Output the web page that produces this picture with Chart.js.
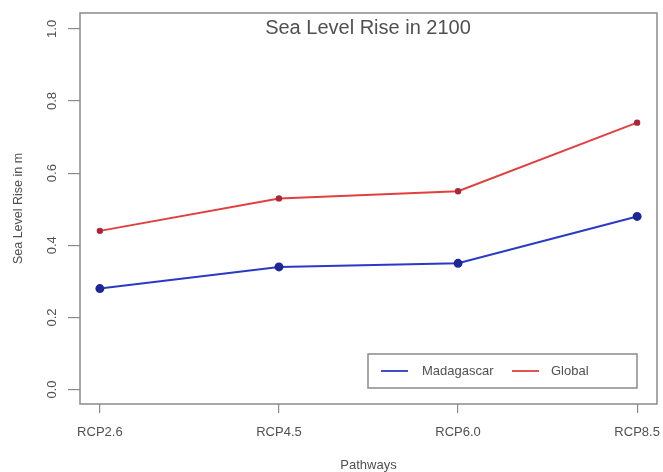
<!DOCTYPE html>
<html>
<head>
<meta charset="utf-8">
<script src="https://cdn.jsdelivr.net/npm/chart.js@4.4.1/dist/chart.umd.min.js"></script>
<style>
  html, body { margin: 0; padding: 0; background: #fff; }
  #wrap { width: 663px; height: 472px; }
</style>
</head>
<body>
<div id="wrap"><canvas id="chart" width="663" height="472"></canvas></div>
<script>
// ---- data ----
const pathways = ["RCP2.6", "RCP4.5", "RCP6.0", "RCP8.5"];
const madagascar = [0.28, 0.34, 0.35, 0.48];
const globalRise = [0.44, 0.53, 0.55, 0.74];
const yTicks = [0.0, 0.2, 0.4, 0.6, 0.8, 1.0];

const FONT = "'Liberation Sans', Arial, sans-serif";
const TEXT = "#505050";
const AXIS = "#8a8a8a";

// points on a numeric x axis so the first/last category sit near the box (R style)
const toPoints = vals => vals.map((v, i) => ({ x: i + 1, y: v }));

// draws the R-like box, title, rotated y labels, axis titles and legend
const rDecor = {
  id: "rDecor",
  afterDraw(chart) {
    const { ctx, chartArea: a, scales } = chart;
    const xs = scales.x, ys = scales.y;
    ctx.save();

    // plot box
    ctx.strokeStyle = AXIS;
    ctx.lineWidth = 1.5;
    ctx.strokeRect(a.left, a.top, a.right - a.left, a.bottom - a.top);

    ctx.fillStyle = TEXT;

    // title inside the plot
    ctx.font = "20px " + FONT;
    ctx.textAlign = "center";
    ctx.textBaseline = "middle";
    ctx.fillText("Sea Level Rise in 2100", 368, 28);

    // x tick labels
    ctx.font = "13px " + FONT;
    pathways.forEach((p, i) => {
      ctx.fillText(p, xs.getPixelForValue(i + 1), 432);
    });

    // x axis title
    ctx.fillText("Pathways", (a.left + a.right) / 2, 465);

    // y tick labels, rotated like R's las=0
    yTicks.forEach(v => {
      ctx.save();
      ctx.translate(52, ys.getPixelForValue(v));
      ctx.rotate(-Math.PI / 2);
      ctx.fillText(v.toFixed(1), 0, 0);
      ctx.restore();
    });

    // y axis title
    ctx.save();
    ctx.translate(19, (a.top + a.bottom) / 2);
    ctx.rotate(-Math.PI / 2);
    ctx.font = "12.5px " + FONT;
    ctx.fillText("Sea Level Rise in m", 0, 0);
    ctx.restore();

    // legend box bottom right
    const lx = 368, ly = 354, lw = 269, lh = 34;
    ctx.fillStyle = "#fff";
    ctx.fillRect(lx, ly, lw, lh);
    ctx.strokeStyle = AXIS;
    ctx.lineWidth = 1.5;
    ctx.strokeRect(lx, ly, lw, lh);
    const cy = ly + lh / 2;
    const entries = [
      { ds: chart.data.datasets[0], x0: 381, tx: 422 },
      { ds: chart.data.datasets[1], x0: 512, tx: 551 }
    ];
    ctx.font = "13px " + FONT;
    ctx.textAlign = "left";
    entries.forEach(e => {
      ctx.strokeStyle = e.ds.borderColor;
      ctx.lineWidth = 1.8;
      ctx.beginPath();
      ctx.moveTo(e.x0, cy);
      ctx.lineTo(e.x0 + 27, cy);
      ctx.stroke();
      ctx.fillStyle = TEXT;
      ctx.fillText(e.ds.label, e.tx, cy);
    });

    ctx.restore();
  }
};

new Chart(document.getElementById("chart"), {
  type: "line",
  data: {
    datasets: [
      {
        label: "Madagascar",
        data: toPoints(madagascar),
        borderColor: "#2a3ac4",
        backgroundColor: "#1c2896",
        pointBackgroundColor: "#1c2896",
        pointBorderColor: "#1c2896",
        borderWidth: 2,
        pointRadius: 3.5,
        tension: 0
      },
      {
        label: "Global",
        data: toPoints(globalRise),
        borderColor: "#e0403f",
        backgroundColor: "#a8283a",
        pointBackgroundColor: "#a8283a",
        pointBorderColor: "#a8283a",
        borderWidth: 2,
        pointRadius: 2.2,
        tension: 0
      }
    ]
  },
  options: {
    responsive: false,
    animation: false,
    layout: { padding: { top: 13, right: 4, left: 0, bottom: 0 } },
    plugins: {
      legend: { display: false },
      title: { display: false },
      tooltip: { enabled: false }
    },
    scales: {
      x: {
        type: "linear",
        min: 0.889,
        max: 4.111,
        afterBuildTicks: s => { s.ticks = pathways.map((p, i) => ({ value: i + 1 })); },
        afterFit: s => { s.height = 68; },
        ticks: { display: false },
        border: { display: false },
        grid: { drawOnChartArea: false, drawTicks: true, tickLength: 9, color: AXIS, lineWidth: 1.2 }
      },
      y: {
        min: -0.04,
        max: 1.044,
        afterBuildTicks: s => { s.ticks = yTicks.map(v => ({ value: v })); },
        afterFit: s => { s.width = 80; },
        ticks: { display: false },
        border: { display: false },
        grid: { drawOnChartArea: false, drawTicks: true, tickLength: 12, color: AXIS, lineWidth: 1.2 }
      }
    }
  },
  plugins: [rDecor]
});
</script>
</body>
</html>
